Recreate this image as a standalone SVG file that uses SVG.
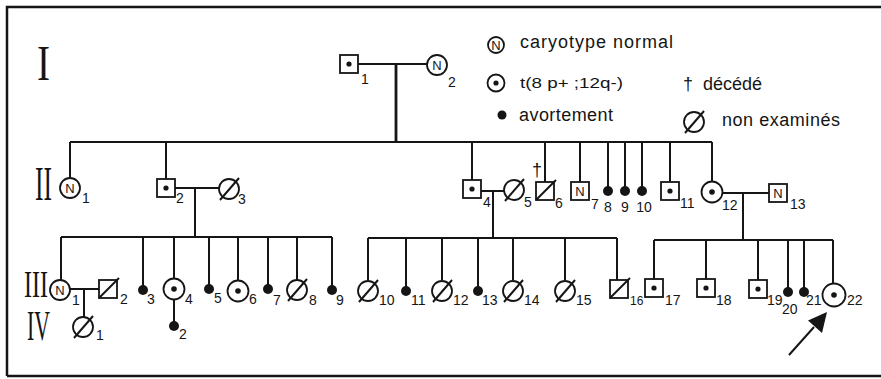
<svg xmlns="http://www.w3.org/2000/svg" width="881" height="379" viewBox="0 0 881 379">
<style>
.ln{stroke:#151515;stroke-width:2;fill:none}
.thick{stroke:#151515;stroke-width:2.8;fill:none}
.frame{stroke:#151515;stroke-width:2.5;fill:none}
.sym{stroke:#151515;stroke-width:1.8;fill:#fff}
.dot{fill:#151515}
.lbl{font-family:"Liberation Sans",Arial,sans-serif;font-size:14px;fill:#151515}
.sm{font-size:12px}
.nn{font-family:"Liberation Sans",Arial,sans-serif;font-size:13px;fill:#151515;text-anchor:middle}
.leg{font-family:"Liberation Sans",Arial,sans-serif;font-size:18px;fill:#151515}
.rom{font-family:"Liberation Serif","Times New Roman",serif;fill:#151515}
</style>
<defs>
<g id="sqdot"><rect class="sym" x="-9" y="-9" width="18" height="18"/><circle class="dot" r="2.6"/></g>
<g id="sqN"><rect class="sym" x="-9" y="-9" width="18" height="18"/><text class="nn" y="5">N</text></g>
<g id="sqX"><rect class="sym" x="-9" y="-9" width="18" height="18"/><line class="ln" stroke-width="1.8" x1="-9" y1="9" x2="11" y2="-11"/></g>
<g id="ciN"><circle class="sym" r="10"/><text class="nn" y="5">N</text></g>
<g id="cidot"><circle class="sym" r="10.5"/><circle class="dot" r="2.8"/></g>
<g id="ciX"><circle class="sym" r="10"/><line class="ln" stroke-width="1.8" x1="-9" y1="11" x2="10" y2="-11"/></g>
<circle id="ab" class="dot" r="5"/>
</defs>
<rect width="881" height="379" fill="#fff"/>
<g id="frame"><path class="frame" d="M7 376 V7 H881 M7 376 H881"/></g>
<g id="generations">
<text class="rom" x="37" y="80" font-size="50" textLength="13" lengthAdjust="spacingAndGlyphs">I</text>
<text class="rom" x="35" y="200" font-size="48" textLength="17" lengthAdjust="spacingAndGlyphs">II</text>
<text class="rom" x="24" y="297" font-size="37" textLength="24" lengthAdjust="spacingAndGlyphs">III</text>
<text class="rom" x="27" y="340" font-size="42" textLength="23" lengthAdjust="spacingAndGlyphs">IV</text>
</g>
<g id="legend">
<g id="leg-N"><circle class="sym" cx="496" cy="45" r="8"/><text class="nn" x="496" y="49.5" font-size="11">N</text><text class="leg" x="520" y="48" textLength="153" lengthAdjust="spacing">caryotype normal</text></g>
<g id="leg-t"><circle class="sym" cx="496" cy="83" r="8.5"/><circle class="dot" cx="496" cy="83" r="2.6"/><text class="lbl" x="520" y="88" font-size="15" textLength="103" lengthAdjust="spacingAndGlyphs">t(8 p+ ;12q-)</text></g>
<g id="leg-dc"><text class="leg" x="688" y="90" text-anchor="middle">†</text><text class="leg" x="703" y="90" font-size="19">décédé</text></g>
<g id="leg-ab"><circle class="dot" cx="502" cy="115" r="4.5"/><text class="leg" x="519" y="121" textLength="94" lengthAdjust="spacing">avortement</text></g>
<g id="leg-ne"><use href="#ciX" x="694" y="122"/><text class="leg" x="722" y="126" textLength="118" lengthAdjust="spacing">non examinés</text></g>
</g>
<g id="connectors">
<path class="ln" d="M358 64 H428"/>
<path class="thick" d="M396 64 V142"/>
<path class="ln" d="M70 142 H712 M70 142 V178 M166 142 V179 M472 142 V180 M545 142 V182 M580 142 V182 M608 142 V191 M625 142 V191 M642 142 V191 M670 142 V182 M712 142 V181"/>
<path class="ln" d="M175 188 H220 M195 188 V237 M61 237 H332 M61 237 V280 M143 237 V290 M174 237 V279 M209 237 V289 M238 237 V281 M268 237 V289 M297 237 V280 M332 237 V290"/>
<path class="ln" d="M481 191 H504 M493 191 V238 M368 238 H617 M368 238 V280 M406 238 V291 M442 238 V280 M478 238 V291 M513 238 V280 M565 238 V280 M617 238 V280"/>
<path class="ln" d="M723 193 H769 M743 193 V240 M654 240 H833 M654 240 V279 M706 240 V279 M758 240 V280 M788 240 V292 M804 240 V292 M833 240 V284"/>
<path class="ln" d="M70 289 H99 M84 289 V318 M174 300 V325"/>
</g>
<g id="I-1"><use href="#sqdot" x="349" y="64"/><text class="lbl" x="361" y="84">1</text></g>
<g id="I-2"><use href="#ciN" x="437" y="65"/><text class="lbl" x="448" y="87">2</text></g>
<g id="II-1"><use href="#ciN" x="70" y="188"/><text class="lbl" x="82" y="203">1</text></g>
<g id="II-2"><use href="#sqdot" x="166" y="188"/><text class="lbl" x="176" y="203">2</text></g>
<g id="II-3"><use href="#ciX" x="229" y="189"/><text class="lbl" x="238" y="204">3</text></g>
<g id="II-4"><use href="#sqdot" x="472" y="189"/><text class="lbl" x="483" y="207">4</text></g>
<g id="II-5"><use href="#ciX" x="514" y="190"/><text class="lbl" x="524" y="207">5</text></g>
<g id="II-6"><use href="#sqX" x="545" y="191"/><text class="leg" x="537" y="176" text-anchor="middle">†</text><text class="lbl" x="555" y="208">6</text></g>
<g id="II-7"><use href="#sqN" x="580" y="191"/><text class="lbl" x="591" y="209">7</text></g>
<g id="II-8"><use href="#ab" x="608" y="191"/><text class="lbl" x="608" y="212" text-anchor="middle">8</text></g>
<g id="II-9"><use href="#ab" x="625" y="191"/><text class="lbl" x="625" y="212" text-anchor="middle">9</text></g>
<g id="II-10"><use href="#ab" x="642" y="191"/><text class="lbl" x="644" y="212" text-anchor="middle">10</text></g>
<g id="II-11"><use href="#sqdot" x="670" y="191"/><text class="lbl" x="680" y="208">11</text></g>
<g id="II-12"><use href="#cidot" x="712" y="192"/><text class="lbl" x="722" y="210">12</text></g>
<g id="II-13"><use href="#sqN" x="778" y="193"/><text class="lbl" x="790" y="209">13</text></g>
<g id="III-1"><use href="#ciN" x="60" y="290"/><text class="lbl" x="72" y="305">1</text></g>
<g id="III-2"><use href="#sqX" x="108" y="289"/><text class="lbl" x="120" y="304">2</text></g>
<g id="III-3"><use href="#ab" x="143" y="290"/><text class="lbl" x="147" y="304">3</text></g>
<g id="III-4"><use href="#cidot" x="174" y="289"/><text class="lbl" x="185" y="304">4</text></g>
<g id="III-5"><use href="#ab" x="209" y="289"/><text class="lbl" x="214" y="303">5</text></g>
<g id="III-6"><use href="#cidot" x="238" y="291"/><text class="lbl" x="249" y="304">6</text></g>
<g id="III-7"><use href="#ab" x="268" y="289"/><text class="lbl" x="273" y="305">7</text></g>
<g id="III-8"><use href="#ciX" x="297" y="290"/><text class="lbl" x="309" y="305">8</text></g>
<g id="III-9"><use href="#ab" x="332" y="290"/><text class="lbl" x="336" y="305">9</text></g>
<g id="III-10"><use href="#ciX" x="368" y="291"/><text class="lbl" x="379" y="305">10</text></g>
<g id="III-11"><use href="#ab" x="406" y="291"/><text class="lbl" x="411" y="305">11</text></g>
<g id="III-12"><use href="#ciX" x="442" y="291"/><text class="lbl" x="453" y="305">12</text></g>
<g id="III-13"><use href="#ab" x="478" y="291"/><text class="lbl" x="482" y="305">13</text></g>
<g id="III-14"><use href="#ciX" x="513" y="291"/><text class="lbl" x="524" y="305">14</text></g>
<g id="III-15"><use href="#ciX" x="565" y="291"/><text class="lbl" x="576" y="305">15</text></g>
<g id="III-16"><use href="#sqX" x="619" y="289"/><text class="lbl sm" x="630" y="305">16</text></g>
<g id="III-17"><use href="#sqdot" x="654" y="288"/><text class="lbl" x="665" y="305">17</text></g>
<g id="III-18"><use href="#sqdot" x="706" y="288"/><text class="lbl" x="716" y="305">18</text></g>
<g id="III-19"><use href="#sqdot" x="758" y="289"/><text class="lbl" x="767" y="305">19</text></g>
<g id="III-20"><use href="#ab" x="788" y="292"/><text class="lbl" x="782" y="314">20</text></g>
<g id="III-21"><use href="#ab" x="804" y="292"/><text class="lbl" x="806" y="305">21</text></g>
<g id="III-22"><circle class="sym" cx="834" cy="295" r="11.5"/><circle class="dot" cx="834" cy="295" r="2.8"/><text class="lbl" x="847" y="305">22</text></g>
<g id="IV-1"><use href="#ciX" x="83" y="327"/><text class="lbl" x="96" y="340">1</text></g>
<g id="IV-2"><use href="#ab" x="174" y="326"/><text class="lbl" x="179" y="339">2</text></g>
<g id="proband-arrow"><line class="ln" stroke-width="5.5" x1="789" y1="355" x2="814" y2="327"/><polygon class="dot" points="827,312 822,333 808,320.5"/></g>
</svg>
